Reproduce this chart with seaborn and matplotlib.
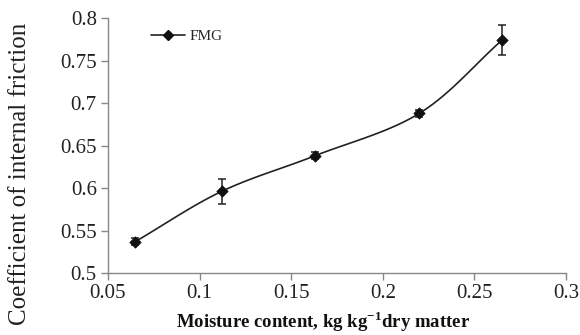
import numpy as np
import pandas as pd
import matplotlib
matplotlib.use("Agg")
import matplotlib.pyplot as plt
from matplotlib.lines import Line2D
import seaborn as sns

moisture = [0.065, 0.112, 0.163, 0.220, 0.265]
coef = [0.537, 0.596, 0.638, 0.688, 0.774]
err = [0.004, 0.015, 0.004, 0.004, 0.018]
series_name = "FMG"

sns.set_style("white")
plt.rcParams['font.family'] = ['Liberation Serif', 'DejaVu Serif']
plt.rcParams['mathtext.fontset'] = 'custom'
plt.rcParams['mathtext.rm'] = 'Liberation Serif'
plt.rcParams['mathtext.bf'] = 'Liberation Serif:bold'

df = pd.DataFrame({"x": moisture, "y": coef, "e": err})

fig = plt.figure(figsize=(5.8, 3.35), dpi=100)
ax = fig.add_axes([0.186, 0.185, 0.790, 0.761])

# smooth line (Catmull-Rom through the data points, like a spreadsheet smoothed line)
xs = np.array(moisture); ys = np.array(coef)
px = np.concatenate([[2*xs[0]-xs[1]], xs, [2*xs[-1]-xs[-2]]])
py = np.concatenate([[2*ys[0]-ys[1]], ys, [2*ys[-1]-ys[-2]]])
cx, cy = [], []
t = np.linspace(0, 1, 30)
for i in range(1, len(px)-2):
    p0, p1, p2, p3 = [np.array([px[j], py[j]]) for j in (i-1, i, i+1, i+2)]
    b1 = p1 + (p2 - p0) / 6
    b2 = p2 - (p3 - p1) / 6
    for tt in t:
        pt = ((1-tt)**3)*p1 + 3*((1-tt)**2)*tt*b1 + 3*(1-tt)*tt**2*b2 + tt**3*p2
        cx.append(pt[0]); cy.append(pt[1])
ax.plot(cx, cy, color="#222222", lw=1.2, zorder=2)

ax.errorbar(df["x"], df["y"], yerr=df["e"], fmt="none", ecolor="#222222",
            elinewidth=1.1, capsize=2.6, capthick=1.1, zorder=3)
sns.scatterplot(data=df, x="x", y="y", marker="D", s=34, color="#111111",
                edgecolor="#111111", ax=ax, zorder=4)

ax.set_xlim(0.05, 0.3)
ax.set_ylim(0.5, 0.8)
ax.set_xticks([0.05, 0.1, 0.15, 0.2, 0.25, 0.3])
ax.set_xticklabels(["0.05", "0.1", "0.15", "0.2", "0.25", "0.3"])
ax.set_yticks([0.5, 0.55, 0.6, 0.65, 0.7, 0.75, 0.8])
ax.set_yticklabels(["0.5", "0.55", "0.6", "0.65", "0.7", "0.75", "0.8"])

for s in ["top", "right"]:
    ax.spines[s].set_visible(False)
for s in ["left", "bottom"]:
    ax.spines[s].set_color("#888888")
    ax.spines[s].set_linewidth(1.0)
ax.tick_params(axis="both", direction="out", length=5, width=1.0, color="#888888",
               labelsize=15, labelcolor="#222222", pad=3, left=True, bottom=True)

ax.set_xlabel(r"Moisture content, kg kg$^{\mathbf{-1}}$dry matter", fontsize=13.5,
              fontweight="bold", color="#111111")
ax.xaxis.set_label_coords(0.469, -0.14)
ax.set_ylabel("Coefficient of internal friction", fontsize=18, color="#222222")
ax.yaxis.set_label_coords(-0.168, 0.39)

handle = Line2D([], [], color="#222222", lw=1.2, marker="D", markersize=5,
                markerfacecolor="#111111", markeredgecolor="#111111")
ax.legend([handle], [series_name], loc="upper left", bbox_to_anchor=(0.065, 1.01),
          frameon=False, fontsize=11, handlelength=2.2, handletextpad=0.3)

fig.savefig("out.png", dpi=100)
